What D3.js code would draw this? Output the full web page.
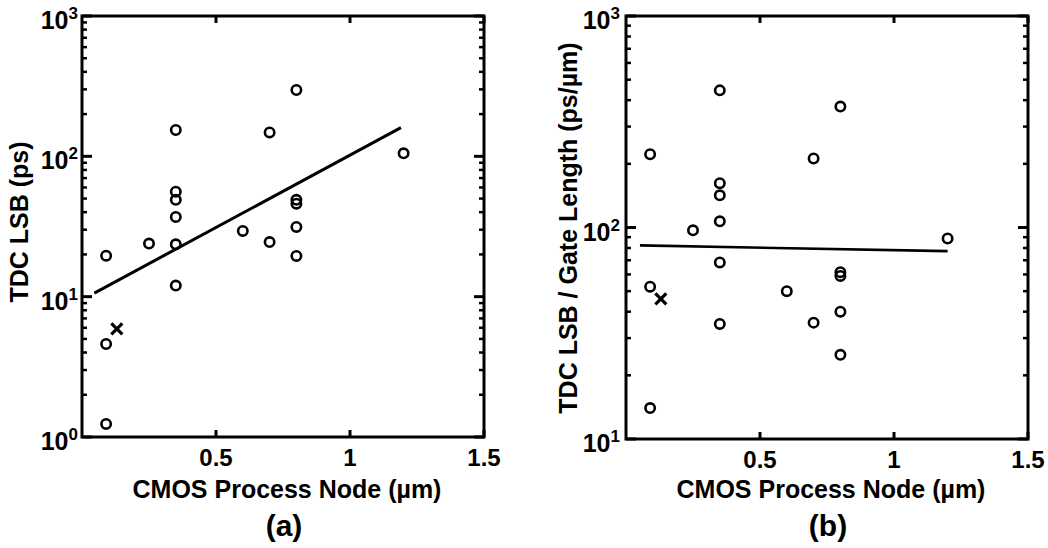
<!DOCTYPE html>
<html><head><meta charset="utf-8">
<script src="https://cdn.jsdelivr.net/npm/d3@7"></script>
<style>
html,body{margin:0;padding:0;background:#fff;}
svg text{font-family:"Liberation Sans",Arial,sans-serif;font-weight:bold;fill:#000;}
</style></head>
<body><svg id="c" width="1048" height="548"></svg>
<script>
// ---- data ----
const nodes      = [0.09,0.09,0.09,0.25,0.35,0.35,0.35,0.35,0.35,0.35,0.6,0.7,0.7,0.8,0.8,0.8,0.8,0.8,1.2];
const lsbPs      = [19.6,4.6,1.24,23.9,154,56,49,37,23.6,12,29.4,148,24.5,297,49,46,31.4,19.5,105];
const lsbPerGate = [222,52.5,14,97,445,162,142,107,68.4,35,50,212,35.5,373,61.5,59,40,25,88.7];
const crossNode = [0.13];
const crossLsb = [5.9];
const crossLsbPerGate = [46];
const fitNodeA = [0.046, 1.19];
const fitLsbA = [10.6, 160];
const fitNodeB = [0.052, 1.2];
const fitLsbB = [82.3, 77.3];
const xTicks = [0.5, 1, 1.5];
const xTickLabels = ["0.5", "1", "1.5"];
const yDecadesA = [1, 10, 100, 1000];
const yDecadesB = [10, 100, 1000];

const svg = d3.select("#c");

function panel(cfg){
  const x = d3.scaleLinear([0,1.5],[cfg.x0,cfg.x1]);
  const y = d3.scaleLog([cfg.yMin,cfg.yMax],[cfg.y0,cfg.y1]);
  const g = svg.append("g");
  const majLen = 10, minLen = 5, xLen = 7;
  const minors = [];
  for (let d = cfg.yMin; d < cfg.yMax; d *= 10) for (let k = 2; k <= 9; k++) minors.push(d*k);
  const tickG = g.append("g").attr("stroke","#000");
  minors.forEach(v=>{
    tickG.append("line").attr("x1",cfg.x0).attr("x2",cfg.x0+minLen).attr("y1",y(v)).attr("y2",y(v)).attr("stroke-width",2.5);
    tickG.append("line").attr("x1",cfg.x1).attr("x2",cfg.x1-minLen).attr("y1",y(v)).attr("y2",y(v)).attr("stroke-width",2.5);
  });
  cfg.decades.forEach(v=>{
    tickG.append("line").attr("x1",cfg.x0).attr("x2",cfg.x0+majLen).attr("y1",y(v)).attr("y2",y(v)).attr("stroke-width",3);
    tickG.append("line").attr("x1",cfg.x1).attr("x2",cfg.x1-majLen).attr("y1",y(v)).attr("y2",y(v)).attr("stroke-width",3);
  });
  xTicks.forEach(v=>{
    tickG.append("line").attr("x1",x(v)).attr("x2",x(v)).attr("y1",cfg.y0).attr("y2",cfg.y0-xLen).attr("stroke-width",3);
    tickG.append("line").attr("x1",x(v)).attr("x2",x(v)).attr("y1",cfg.y1).attr("y2",cfg.y1+xLen).attr("stroke-width",3);
  });
  g.append("rect").attr("x",cfg.x0).attr("y",cfg.y1).attr("width",cfg.x1-cfg.x0).attr("height",cfg.y0-cfg.y1)
    .attr("fill","none").attr("stroke","#000").attr("stroke-width",3);
  xTicks.forEach((v,i)=>{
    g.append("text").attr("x",x(v)).attr("y",cfg.y0+29).attr("text-anchor","middle")
      .attr("font-size",24).text(xTickLabels[i]);
  });
  cfg.decades.forEach(v=>{
    const t = g.append("text").attr("x",cfg.x0-cfg.labGap).attr("y",y(v)+13).attr("text-anchor","end").attr("font-size",25);
    t.append("tspan").text("10");
    t.append("tspan").attr("font-size",17).attr("dy",-10).text(String(Math.round(Math.log10(v))));
  });
  g.append("path").datum(cfg.fitX.map((d,i)=>[d,cfg.fitY[i]]))
    .attr("d",d3.line().x(d=>x(d[0])).y(d=>y(d[1])))
    .attr("fill","none").attr("stroke","#000").attr("stroke-width",cfg.fitW);
  g.append("g").selectAll("circle").data(nodes.map((d,i)=>[d,cfg.vals[i]])).join("circle")
    .attr("cx",d=>x(d[0])).attr("cy",d=>y(d[1])).attr("r",4.7)
    .attr("fill","none").attr("stroke","#000").attr("stroke-width",2.6);
  crossNode.forEach((d,i)=>{
    const cx = x(d), cy = y(cfg.cross[i]), s = 5.5;
    g.append("path").attr("d",`M${cx-s},${cy-s}L${cx+s},${cy+s}M${cx-s},${cy+s}L${cx+s},${cy-s}`)
      .attr("stroke","#000").attr("stroke-width",3.2).attr("fill","none");
  });
  const cxm = (cfg.x0+cfg.x1)/2;
  g.append("text").attr("x",cxm+4).attr("y",498).attr("text-anchor","middle").attr("font-size",25)
    .text("CMOS Process Node (\u00b5m)");
  g.append("text").attr("transform",`translate(${cfg.titleX},${cfg.titleY}) rotate(-90)`)
    .attr("text-anchor","middle").attr("font-size",25).text(cfg.yTitle);
  g.append("text").attr("x",cxm+1).attr("y",536).attr("text-anchor","middle").attr("font-size",30).text(cfg.tag);
}

panel({x0:82,x1:484,y0:437,y1:16,yMin:1,yMax:1000,decades:yDecadesA,vals:lsbPs,cross:crossLsb,
  fitX:fitNodeA,fitY:fitLsbA,fitW:3,labGap:4,titleX:28,titleY:222,yTitle:"TDC LSB (ps)",tag:"(a)"});
panel({x0:626,x1:1028,y0:439,y1:16,yMin:10,yMax:1000,decades:yDecadesB,vals:lsbPerGate,cross:crossLsbPerGate,
  fitX:fitNodeB,fitY:fitLsbB,fitW:2.6,labGap:6,titleX:577,titleY:228,yTitle:"TDC LSB / Gate Length (ps/\u00b5m)",tag:"(b)"});
</script></body></html>
